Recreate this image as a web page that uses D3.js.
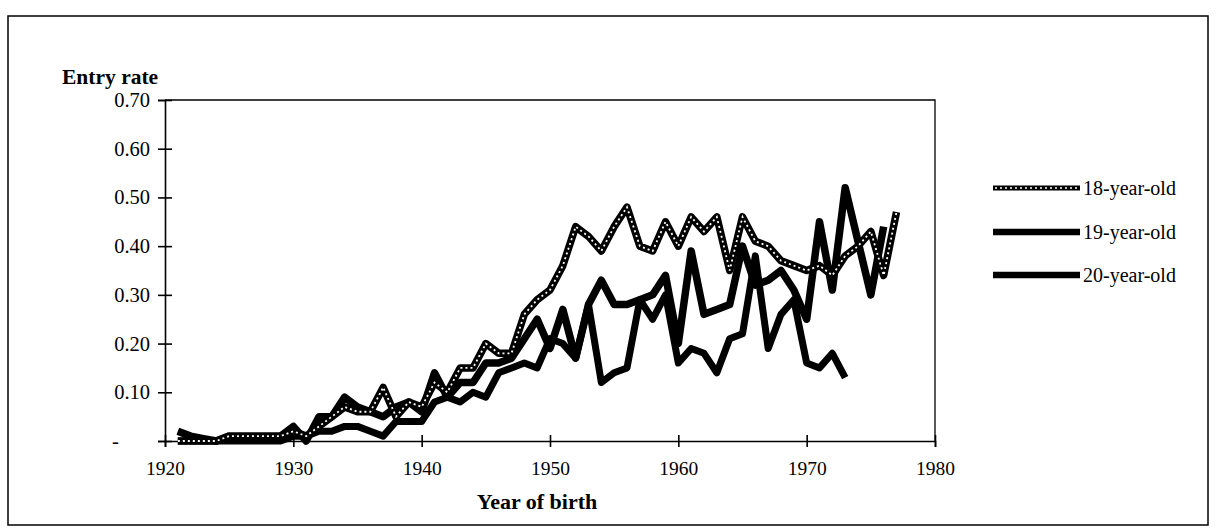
<!DOCTYPE html>
<html><head><meta charset="utf-8">
<script src="https://cdn.jsdelivr.net/npm/d3@7"></script>
<style>body{margin:0;background:#fff}svg{display:block}text{font-family:"Liberation Serif","Times New Roman",serif;fill:#000}</style>
</head><body><svg id="c" width="1216" height="531"></svg>
<script>
const years18 = d3.range(1921, 1978);
const values18 = [0.00,0.00,0.00,0.00,0.01,0.01,0.01,0.01,0.01,0.02,0.01,0.03,0.05,0.07,0.06,0.06,0.11,0.05,0.08,0.07,0.12,0.10,0.15,0.15,0.20,0.18,0.18,0.26,0.29,0.31,0.36,0.44,0.42,0.39,0.44,0.48,0.40,0.39,0.45,0.40,0.46,0.43,0.46,0.35,0.46,0.41,0.40,0.37,0.36,0.35,0.36,0.34,0.38,0.40,0.43,0.34,0.47];
const years19 = d3.range(1921, 1977);
const values19 = [0.02,0.01,0.005,0.00,0.01,0.01,0.01,0.01,0.01,0.03,0.00,0.05,0.05,0.09,0.07,0.06,0.05,0.07,0.08,0.06,0.14,0.09,0.12,0.12,0.16,0.16,0.17,0.21,0.25,0.19,0.27,0.17,0.28,0.33,0.28,0.28,0.29,0.30,0.34,0.20,0.39,0.26,0.27,0.28,0.40,0.32,0.33,0.35,0.31,0.25,0.45,0.31,0.52,0.41,0.30,0.44];
const years20 = d3.range(1921, 1974);
const values20 = [0.00,0.00,0.00,0.00,0.00,0.00,0.00,0.00,0.00,0.01,0.01,0.02,0.02,0.03,0.03,0.02,0.01,0.04,0.04,0.04,0.08,0.09,0.08,0.10,0.09,0.14,0.15,0.16,0.15,0.21,0.20,0.17,0.28,0.12,0.14,0.15,0.29,0.25,0.30,0.16,0.19,0.18,0.14,0.21,0.22,0.38,0.19,0.26,0.29,0.16,0.15,0.18,0.13];
const xTicks = [1920,1930,1940,1950,1960,1970,1980];
const yTicks = [0,0.1,0.2,0.3,0.4,0.5,0.6,0.7];
const yTickLabels = ["-","0.10","0.20","0.30","0.40","0.50","0.60","0.70"];
const seriesNames = ["18-year-old","19-year-old","20-year-old"];

const svg = d3.select("#c");
const L=165, R=935, T=100, B=441;
const x = d3.scaleLinear().domain([1920,1980]).range([L,R]);
const y = d3.scaleLinear().domain([0,0.7]).range([B,T]);

// outer frame
svg.append("rect").attr("x",8).attr("y",16).attr("width",1200).attr("height",509)
  .attr("fill","none").attr("stroke","#000").attr("stroke-width",1.5);
// plot box top/right
svg.append("path").attr("d",`M${L},${T}H${R}V${B}`).attr("fill","none").attr("stroke","#000").attr("stroke-width",1.3);

// y axis
const ya = svg.append("g").attr("transform",`translate(${L},0)`)
  .call(d3.axisLeft(y).tickValues(yTicks).tickFormat((d,i)=>yTickLabels[i]).tickSize(7).tickPadding(8));
ya.select(".domain").attr("stroke","#000").attr("stroke-width",1.6);
ya.selectAll(".tick line").attr("x2",-7).attr("x1",7).attr("stroke-width",1.6);
ya.selectAll(".tick text").attr("font-size",20.5).attr("x",-15).style("font-family","Liberation Serif");
ya.selectAll(".tick text").filter((d,i)=>i===0).attr("text-anchor","start").attr("x",112-L);

// x axis
const xa = svg.append("g").attr("transform",`translate(0,${B})`)
  .call(d3.axisBottom(x).tickValues(xTicks).tickFormat(d3.format("d")).tickSize(6).tickPadding(14));
xa.select(".domain").attr("stroke","#000").attr("stroke-width",1.6);
xa.selectAll(".tick line").attr("y1",-6).attr("y2",6).attr("stroke-width",1.6);
xa.selectAll(".tick text").attr("font-size",19.5).style("font-family","Liberation Serif");

// titles
svg.append("text").attr("x",62).attr("y",84).attr("font-size",21.5).attr("font-weight","bold").text("Entry rate");
svg.append("text").attr("x",537).attr("y",509).attr("text-anchor","middle").attr("font-size",22).attr("font-weight","bold").text("Year of birth");

const line = d3.line().x(d=>x(d[0])).y(d=>y(d[1]));
const d18 = years18.map((yr,i)=>[yr,values18[i]]);
const d19 = years19.map((yr,i)=>[yr,values19[i]]);
const d20 = years20.map((yr,i)=>[yr,values20[i]]);

svg.append("path").datum(d20).attr("d",line).attr("fill","none").attr("stroke","#000").attr("stroke-width",7).attr("stroke-linejoin","round");
svg.append("path").datum(d19).attr("d",line).attr("fill","none").attr("stroke","#000").attr("stroke-width",7.5).attr("stroke-linejoin","round");
svg.append("path").datum(d18).attr("d",line).attr("fill","none").attr("stroke","#000").attr("stroke-width",7.5).attr("stroke-linejoin","round");
svg.append("path").datum(d18).attr("d",line).attr("fill","none").attr("stroke","#fff").attr("stroke-width",1.8).attr("stroke-dasharray","2,3");

// legend
const legY = [188,232,275];
const lg = svg.append("g");
seriesNames.forEach((n,i)=>{
  lg.append("line").attr("x1",993).attr("x2",1080).attr("y1",legY[i]).attr("y2",legY[i]).attr("stroke","#000").attr("stroke-width",i===0?5:6.5);
  if(i===0) lg.append("line").attr("x1",995).attr("x2",1078).attr("y1",legY[i]).attr("y2",legY[i]).attr("stroke","#fff").attr("stroke-width",1.5).attr("stroke-dasharray","2,3");
  lg.append("text").attr("x",1083).attr("y",legY[i]).attr("dy","0.35em").attr("font-size",20).text(n);
});
</script></body></html>
